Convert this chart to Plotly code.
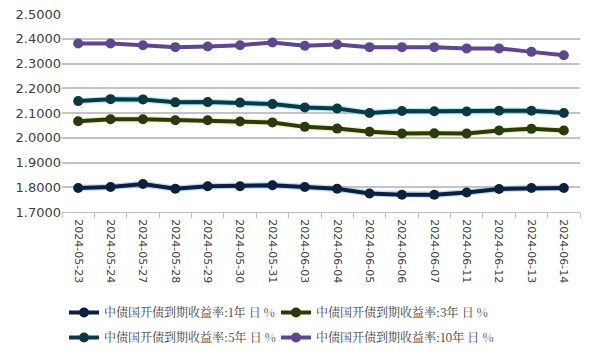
import plotly.graph_objects as go

dates = ["2024-05-23", "2024-05-24", "2024-05-27", "2024-05-28", "2024-05-29", "2024-05-30",
         "2024-05-31", "2024-06-03", "2024-06-04", "2024-06-05", "2024-06-06", "2024-06-07",
         "2024-06-11", "2024-06-12", "2024-06-13", "2024-06-14"]

y1 = [1.797, 1.801, 1.813, 1.794, 1.804, 1.804, 1.808, 1.801, 1.794, 1.775, 1.770, 1.770,
      1.779, 1.793, 1.797, 1.797]
y3 = [2.067, 2.075, 2.075, 2.071, 2.071, 2.066, 2.062, 2.044, 2.037, 2.024, 2.017, 2.018,
      2.017, 2.029, 2.036, 2.029]
y5 = [2.148, 2.156, 2.155, 2.143, 2.144, 2.142, 2.136, 2.122, 2.118, 2.100, 2.108, 2.107,
      2.106, 2.109, 2.109, 2.100]
y10 = [2.381, 2.381, 2.374, 2.366, 2.369, 2.374, 2.385, 2.372, 2.377, 2.366, 2.366, 2.366,
       2.361, 2.361, 2.347, 2.333]

names = ["中债国开债到期收益率:1年 日 %", "中债国开债到期收益率:3年 日 %",
         "中债国开债到期收益率:5年 日 %", "中债国开债到期收益率:10年 日 %"]
series = [y1, y3, y5, y10]
colors = ["#0c1f3f", "#2b3a0b", "#0b3844", "#5e4690"]
glows = ["rgba(120,170,230,0.45)", "rgba(220,230,120,0.45)", "rgba(100,220,235,0.5)", None]
legend_ids = ["legend", "legend2", "legend3", "legend4"]

fig = go.Figure()
for ys, c, g in zip(series, colors, glows):
    if g is None:
        continue
    fig.add_trace(go.Scatter(x=dates, y=ys, mode="lines", line=dict(color=g, width=6.5),
                             showlegend=False, hoverinfo="skip"))
for ys, n, c, lg in zip(series, names, colors, legend_ids):
    fig.add_trace(go.Scatter(x=dates, y=ys, name=n, mode="lines+markers",
                             line=dict(color=c, width=4),
                             marker=dict(color=c, size=10), legend=lg))

legend_common = dict(orientation="h", xref="container", yref="container",
                     xanchor="left", yanchor="top", itemwidth=30,
                     font=dict(size=12, color="#404040",
                               family="Noto Serif CJK SC, Noto Sans CJK SC, serif"),
                     bgcolor="rgba(0,0,0,0)")

col_x = [64 / 592, 276 / 592]
row_y = [1 - 298 / 353, 1 - 323 / 353]

fig.update_layout(
    width=592, height=353,
    margin=dict(l=62, r=12, t=14, b=141, autoexpand=False),
    paper_bgcolor="white", plot_bgcolor="white",
    font=dict(family="Noto Sans CJK SC, DejaVu Sans, sans-serif", color="#404040"),
    showlegend=True,
    legend=dict(legend_common, x=col_x[0], y=row_y[0]),
    legend2=dict(legend_common, x=col_x[1], y=row_y[0]),
    legend3=dict(legend_common, x=col_x[0], y=row_y[1]),
    legend4=dict(legend_common, x=col_x[1], y=row_y[1]),
    xaxis=dict(type="category", tickangle=90, tickfont=dict(size=11, family="DejaVu Sans"),
               showgrid=False, showline=True, linecolor="#bfbfbf", linewidth=1,
               ticks="outside", ticklen=5, tickcolor="#bfbfbf", tickson="boundaries",
               ticklabelstandoff=4,
               range=[-0.5, 15.5], automargin=False),
    yaxis=dict(range=[1.7, 2.5], dtick=0.1, tick0=1.7, tickformat=".4f",
               tickfont=dict(size=13, family="DejaVu Sans"), automargin=False,
               showgrid=True, gridcolor="#c4c4c4", gridwidth=1.5, zeroline=False,
               showline=False, ticks=""),
)

fig.write_html("out.html")
